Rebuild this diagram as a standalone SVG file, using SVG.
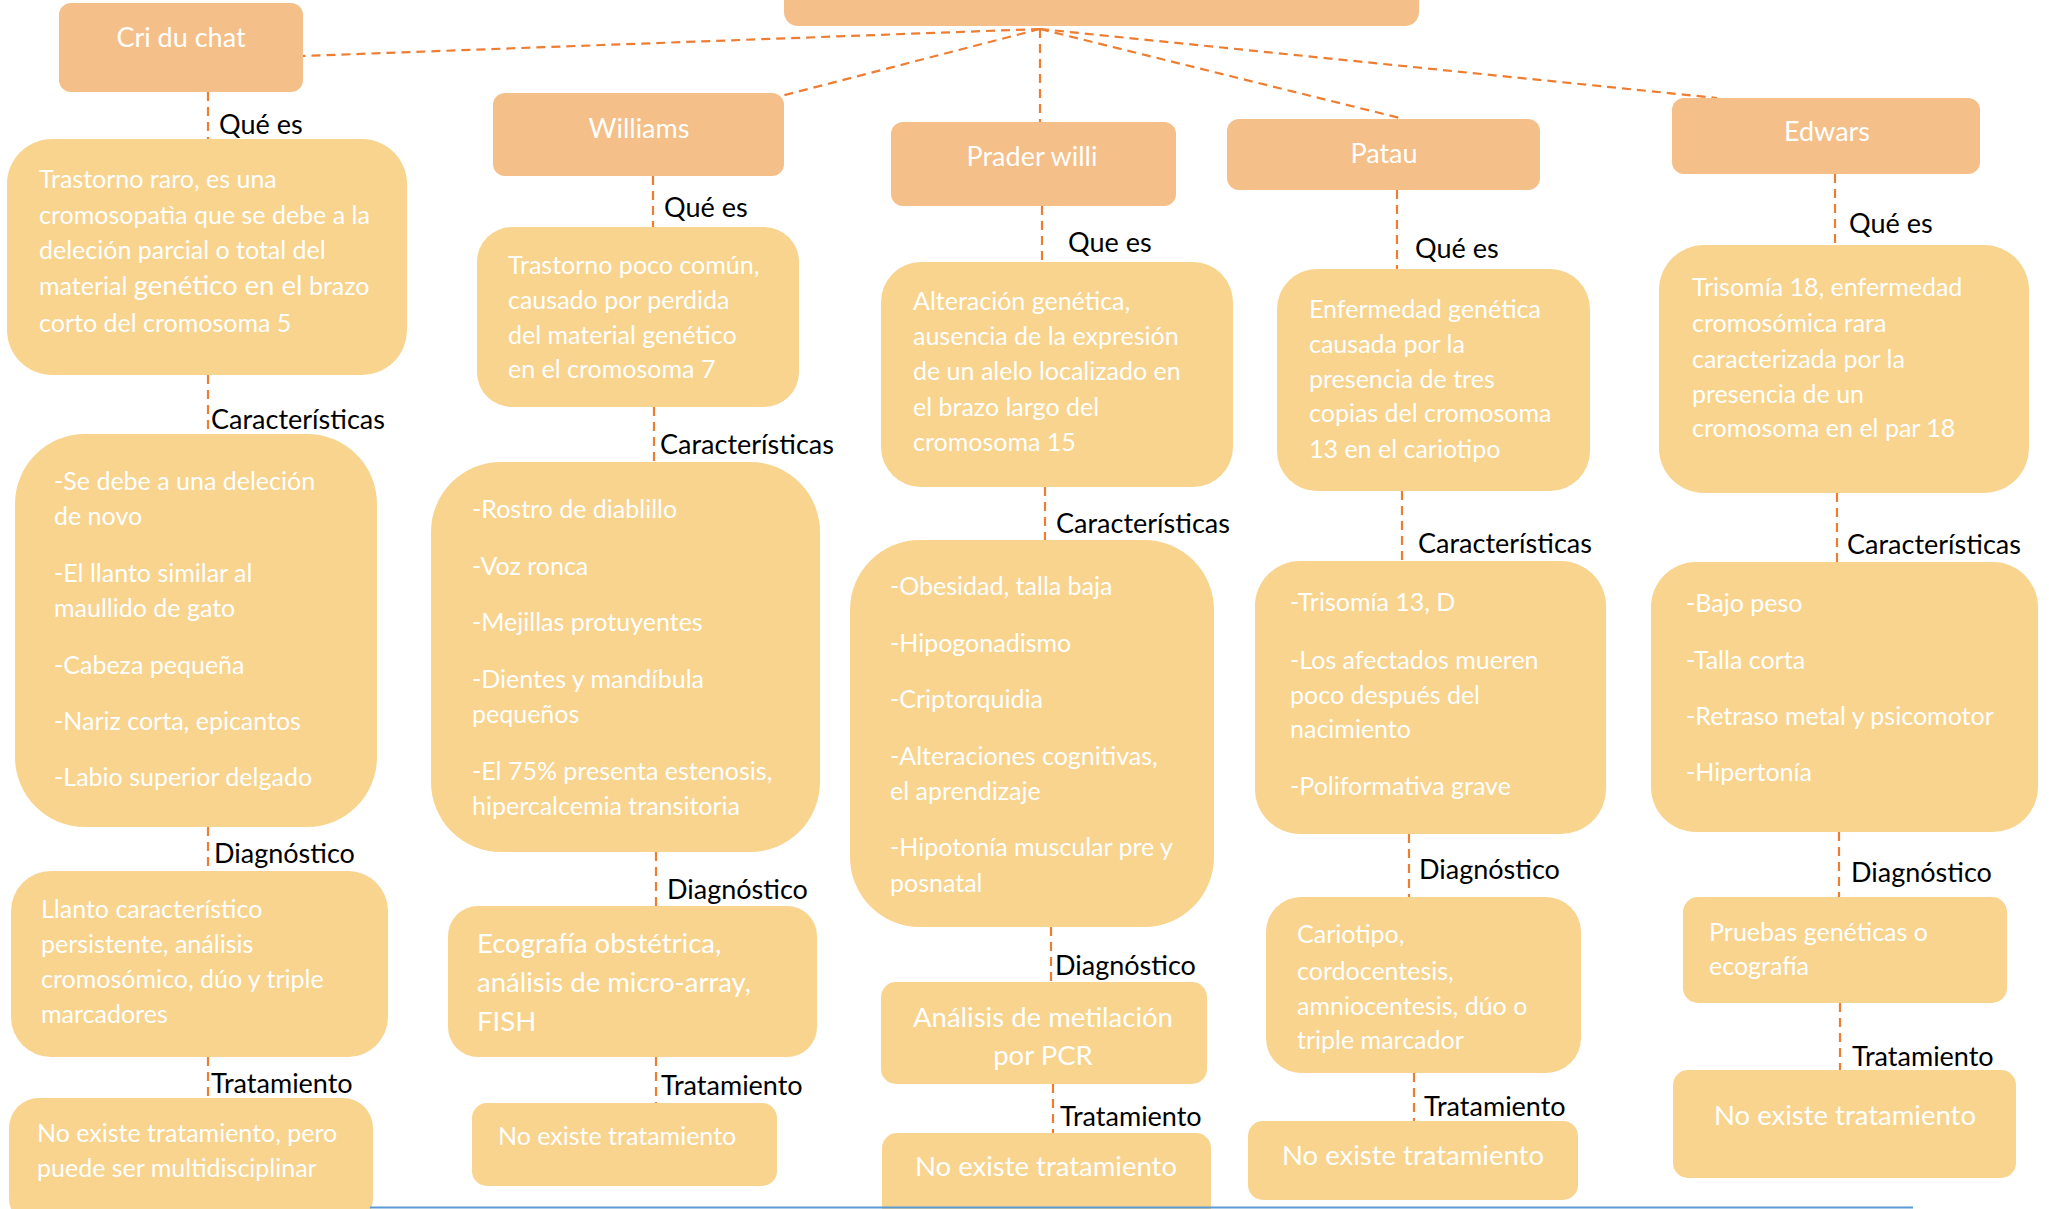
<svg xmlns="http://www.w3.org/2000/svg" width="2049" height="1209" viewBox="0 0 2049 1209">
<style>
.tb{fill:#F4BF88}
.cb{fill:#F8D48F}
.tt{font-family:Lato,"Open Sans",sans-serif;font-size:27px;fill:#FFFFFF;text-anchor:middle}
.ct{font-family:Lato,"Open Sans",sans-serif;font-size:25px;fill:#FFFFFF}
.big{font-size:27.5px}
.mid{text-anchor:middle}
.lb{font-family:Lato,"Open Sans",sans-serif;font-size:27px;fill:#000000}
.cn{stroke:#ED7D31;stroke-width:2.2;stroke-dasharray:9 6;fill:none}
</style>
<rect width="2049" height="1209" fill="#FFFFFF"/>

<g id="connectors">
<line class="cn" x1="1040" y1="29" x2="303" y2="56"/>
<line class="cn" x1="1040" y1="29" x2="781" y2="96"/>
<line class="cn" x1="1040" y1="29" x2="1040" y2="122"/>
<line class="cn" x1="1040" y1="29" x2="1400" y2="118"/>
<line class="cn" x1="1040" y1="29" x2="1717" y2="98"/>
<line class="cn" x1="208" y1="92" x2="208" y2="139"/>
<line class="cn" x1="208" y1="375" x2="208" y2="434"/>
<line class="cn" x1="208" y1="827" x2="208" y2="871"/>
<line class="cn" x1="208" y1="1057" x2="208" y2="1098"/>
<line class="cn" x1="653" y1="176" x2="653" y2="227"/>
<line class="cn" x1="654" y1="407" x2="654" y2="462"/>
<line class="cn" x1="656" y1="852" x2="656" y2="906"/>
<line class="cn" x1="656" y1="1057" x2="656" y2="1103"/>
<line class="cn" x1="1042" y1="206" x2="1042" y2="262"/>
<line class="cn" x1="1045" y1="487" x2="1045" y2="540"/>
<line class="cn" x1="1051" y1="927" x2="1051" y2="982"/>
<line class="cn" x1="1053" y1="1084" x2="1053" y2="1133"/>
<line class="cn" x1="1397" y1="190" x2="1397" y2="269"/>
<line class="cn" x1="1402" y1="491" x2="1402" y2="561"/>
<line class="cn" x1="1409" y1="834" x2="1409" y2="897"/>
<line class="cn" x1="1414" y1="1073" x2="1414" y2="1121"/>
<line class="cn" x1="1835" y1="174" x2="1835" y2="245"/>
<line class="cn" x1="1837" y1="493" x2="1837" y2="562"/>
<line class="cn" x1="1839" y1="832" x2="1839" y2="897"/>
<line class="cn" x1="1840" y1="1003" x2="1840" y2="1070"/>
</g>

<g id="labels">
<text class="lb" x="219" y="134">Qué es</text>
<text class="lb" x="211" y="429">Características</text>
<text class="lb" x="214" y="863">Diagnóstico</text>
<text class="lb" x="211" y="1093">Tratamiento</text>
<text class="lb" x="664" y="217">Qué es</text>
<text class="lb" x="660" y="454">Características</text>
<text class="lb" x="667" y="899">Diagnóstico</text>
<text class="lb" x="661" y="1095">Tratamiento</text>
<text class="lb" x="1068" y="252">Que es</text>
<text class="lb" x="1056" y="533">Características</text>
<text class="lb" x="1055" y="975">Diagnóstico</text>
<text class="lb" x="1060" y="1126">Tratamiento</text>
<text class="lb" x="1415" y="258">Qué es</text>
<text class="lb" x="1418" y="553">Características</text>
<text class="lb" x="1419" y="879">Diagnóstico</text>
<text class="lb" x="1424" y="1116">Tratamiento</text>
<text class="lb" x="1849" y="233">Qué es</text>
<text class="lb" x="1847" y="554">Características</text>
<text class="lb" x="1851" y="882">Diagnóstico</text>
<text class="lb" x="1852" y="1066">Tratamiento</text>
</g>

<g id="root"><rect class="tb" x="784" y="-30" width="635" height="56" rx="14"/></g>

<g id="cri-du-chat"><rect class="tb" x="59" y="3" width="244" height="89" rx="12"/><text class="tt" x="181" y="47">Cri du chat</text></g>
<g id="williams"><rect class="tb" x="493" y="93" width="291" height="83" rx="12"/><text class="tt" x="639" y="138">Williams</text></g>
<g id="prader-willi"><rect class="tb" x="891" y="122" width="285" height="84" rx="12"/><text class="tt" x="1032" y="166">Prader willi</text></g>
<g id="patau"><rect class="tb" x="1227" y="119" width="313" height="71" rx="12"/><text class="tt" x="1384" y="163">Patau</text></g>
<g id="edwars"><rect class="tb" x="1672" y="98" width="308" height="76" rx="12"/><text class="tt" x="1827" y="141">Edwars</text></g>

<g id="cri-que-es"><rect class="cb" x="7" y="139" width="400" height="236" rx="45"/>
<text class="ct" x="39" y="188">Trastorno raro, es una</text>
<text class="ct" x="39" y="224">cromosopatìa que se debe a la</text>
<text class="ct" x="39" y="259">deleción parcial o total del</text>
<text class="ct" x="39" y="295">material <tspan font-size="27.5">genético en el</tspan> brazo</text>
<text class="ct" x="39" y="332">corto del cromosoma 5</text></g>
<g id="cri-caracteristicas"><rect class="cb" x="15" y="434" width="362" height="393" rx="70"/>
<text class="ct" x="54" y="490">-Se debe a una deleción</text>
<text class="ct" x="54" y="525">de novo</text>
<text class="ct" x="54" y="582">-El llanto similar al</text>
<text class="ct" x="54" y="617">maullido de gato</text>
<text class="ct" x="54" y="674">-Cabeza pequeña</text>
<text class="ct" x="54" y="730">-Nariz corta, epicantos</text>
<text class="ct" x="54" y="786">-Labio superior delgado</text></g>
<g id="cri-diagnostico"><rect class="cb" x="11" y="871" width="377" height="186" rx="40"/>
<text class="ct" x="41" y="918">Llanto característico</text>
<text class="ct" x="41" y="953">persistente, análisis</text>
<text class="ct" x="41" y="988">cromosómico, dúo y triple</text>
<text class="ct" x="41" y="1023">marcadores</text></g>
<g id="cri-tratamiento"><rect class="cb" x="9" y="1098" width="364" height="130" rx="30"/>
<text class="ct" x="37" y="1142">No existe tratamiento, pero</text>
<text class="ct" x="37" y="1177">puede ser multidisciplinar</text></g>

<g id="williams-que-es"><rect class="cb" x="477" y="227" width="322" height="180" rx="35"/>
<text class="ct" x="508" y="274">Trastorno poco común,</text>
<text class="ct" x="508" y="309">causado por perdida</text>
<text class="ct" x="508" y="344">del material genético</text>
<text class="ct" x="508" y="378">en el cromosoma 7</text></g>
<g id="williams-caracteristicas"><rect class="cb" x="431" y="462" width="389" height="390" rx="70"/>
<text class="ct" x="472" y="518">-Rostro de diablillo</text>
<text class="ct" x="472" y="575">-Voz ronca</text>
<text class="ct" x="472" y="631">-Mejillas protuyentes</text>
<text class="ct" x="472" y="688">-Dientes y mandíbula</text>
<text class="ct" x="472" y="723">pequeños</text>
<text class="ct" x="472" y="780">-El 75% presenta estenosis,</text>
<text class="ct" x="472" y="815">hipercalcemia transitoria</text></g>
<g id="williams-diagnostico"><rect class="cb" x="448" y="906" width="369" height="151" rx="30"/>
<text class="ct big" x="477" y="953">Ecografía obstétrica,</text>
<text class="ct big" x="477" y="992">análisis de micro-array,</text>
<text class="ct big" x="477" y="1031">FISH</text></g>
<g id="williams-tratamiento"><rect class="cb" x="472" y="1103" width="305" height="83" rx="15"/>
<text class="ct" x="498" y="1145">No existe tratamiento</text></g>

<g id="prader-que-es"><rect class="cb" x="881" y="262" width="352" height="225" rx="40"/>
<text class="ct" x="913" y="310">Alteración genética,</text>
<text class="ct" x="913" y="345">ausencia de la expresión</text>
<text class="ct" x="913" y="380">de un alelo localizado en</text>
<text class="ct" x="913" y="416">el brazo largo del</text>
<text class="ct" x="913" y="451">cromosoma 15</text></g>
<g id="prader-caracteristicas"><rect class="cb" x="850" y="540" width="364" height="387" rx="70"/>
<text class="ct" x="890" y="595">-Obesidad, talla baja</text>
<text class="ct" x="890" y="652">-Hipogonadismo</text>
<text class="ct" x="890" y="708">-Criptorquidia</text>
<text class="ct" x="890" y="765">-Alteraciones cognitivas,</text>
<text class="ct" x="890" y="800">el aprendizaje</text>
<text class="ct" x="890" y="856">-Hipotonía muscular pre y</text>
<text class="ct" x="890" y="892">posnatal</text></g>
<g id="prader-diagnostico"><rect class="cb" x="881" y="982" width="326" height="102" rx="15"/>
<text class="ct big mid" x="1043" y="1027">Análisis de metilación</text>
<text class="ct big mid" x="1043" y="1065">por PCR</text></g>
<g id="prader-tratamiento"><rect class="cb" x="882" y="1133" width="329" height="95" rx="15"/>
<text class="ct big mid" x="1046" y="1176">No existe tratamiento</text></g>

<g id="patau-que-es"><rect class="cb" x="1277" y="269" width="313" height="222" rx="40"/>
<text class="ct" x="1309" y="318">Enfermedad genética</text>
<text class="ct" x="1309" y="353">causada por la</text>
<text class="ct" x="1309" y="388">presencia de tres</text>
<text class="ct" x="1309" y="422">copias del cromosoma</text>
<text class="ct" x="1309" y="458">13 en el cariotipo</text></g>
<g id="patau-caracteristicas"><rect class="cb" x="1255" y="561" width="351" height="273" rx="45"/>
<text class="ct" x="1290" y="611">-Trisomía 13, D</text>
<text class="ct" x="1290" y="669">-Los afectados mueren</text>
<text class="ct" x="1290" y="704">poco después del</text>
<text class="ct" x="1290" y="738">nacimiento</text>
<text class="ct" x="1290" y="795">-Poliformativa grave</text></g>
<g id="patau-diagnostico"><rect class="cb" x="1266" y="897" width="315" height="176" rx="35"/>
<text class="ct" x="1297" y="943">Cariotipo,</text>
<text class="ct" x="1297" y="980">cordocentesis,</text>
<text class="ct" x="1297" y="1015">amniocentesis, dúo o</text>
<text class="ct" x="1297" y="1049">triple marcador</text></g>
<g id="patau-tratamiento"><rect class="cb" x="1248" y="1121" width="330" height="79" rx="15"/>
<text class="ct big mid" x="1413" y="1165">No existe tratamiento</text></g>

<g id="edwars-que-es"><rect class="cb" x="1659" y="245" width="370" height="248" rx="45"/>
<text class="ct" x="1692" y="296">Trisomía 18, enfermedad</text>
<text class="ct" x="1692" y="332">cromosómica rara</text>
<text class="ct" x="1692" y="368">caracterizada por la</text>
<text class="ct" x="1692" y="403">presencia de un</text>
<text class="ct" x="1692" y="437">cromosoma en el par 18</text></g>
<g id="edwars-caracteristicas"><rect class="cb" x="1651" y="562" width="387" height="270" rx="45"/>
<text class="ct" x="1686" y="612">-Bajo peso</text>
<text class="ct" x="1686" y="669">-Talla corta</text>
<text class="ct" x="1686" y="725">-Retraso metal y psicomotor</text>
<text class="ct" x="1686" y="781">-Hipertonía</text></g>
<g id="edwars-diagnostico"><rect class="cb" x="1683" y="897" width="324" height="106" rx="15"/>
<text class="ct" x="1709" y="941">Pruebas genéticas o</text>
<text class="ct" x="1709" y="975">ecografía</text></g>
<g id="edwars-tratamiento"><rect class="cb" x="1673" y="1070" width="343" height="108" rx="15"/>
<text class="ct big mid" x="1845" y="1125">No existe tratamiento</text></g>

<line x1="370" y1="1207.5" x2="1913" y2="1207.5" stroke="#5B9BD5" stroke-width="2"/>
</svg>
